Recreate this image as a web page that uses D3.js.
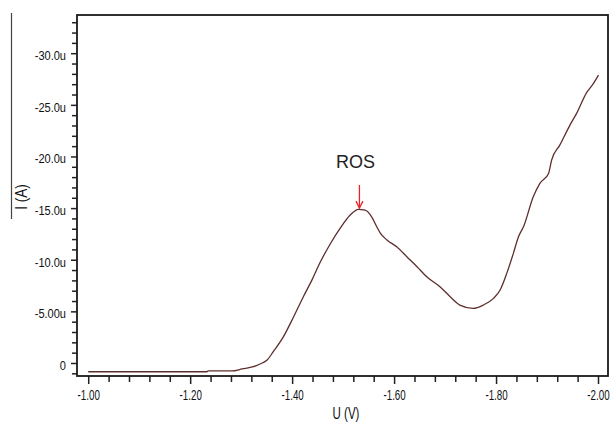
<!DOCTYPE html>
<html>
<head>
<meta charset="utf-8">
<script src="https://cdn.jsdelivr.net/npm/d3@7/dist/d3.min.js"></script>
<style>
  html, body { margin: 0; padding: 0; background: #fff; }
  svg { display: block; }
</style>
</head>
<body>
<svg id="chart" width="613" height="427"></svg>
<script>
// Potential U (V)
const potential = [-1.000, -1.233, -1.235, -1.282, -1.302, -1.324, -1.337, -1.351, -1.363, -1.383,
  -1.403, -1.422, -1.439, -1.455, -1.475, -1.494, -1.514, -1.530, -1.543, -1.556,
  -1.566, -1.573, -1.586, -1.605, -1.625, -1.645, -1.664, -1.690, -1.710, -1.729,
  -1.755, -1.775, -1.795, -1.808, -1.821, -1.834, -1.844, -1.854, -1.873, -1.886,
  -1.903, -1.909, -1.925, -1.945, -1.958, -1.978, -1.988, -2.001];
// Current I (µA)
const current = [0.85, 0.85, 0.77, 0.77, 0.58, 0.36, 0.10, -0.29, -1.09, -2.55,
  -4.48, -6.42, -8.05, -9.75, -11.55, -13.04, -14.33, -14.88, -14.81, -14.16,
  -13.20, -12.58, -11.91, -11.26, -10.29, -9.32, -8.35, -7.39, -6.42, -5.61,
  -5.29, -5.61, -6.26, -7.07, -8.68, -10.62, -12.23, -13.21, -16.10, -17.40,
  -18.36, -19.65, -21.10, -23.04, -24.17, -26.21, -26.85, -27.88];
const xTicks = [-1.0, -1.2, -1.4, -1.6, -1.8, -2.0];
const xTickLabels = ["-1.00", "-1.20", "-1.40", "-1.60", "-1.80", "-2.00"];
const yTicks = [0, -5, -10, -15, -20, -25, -30];
const yTickLabels = ["0", "-5.00u", "-10.0u", "-15.0u", "-20.0u", "-25.0u", "-30.0u"];
const peakLabel = "ROS";
const peakPoint = [-1.532, -14.9];

const svg = d3.select("#chart");
const L = 77, R = 608, T = 15, B = 376;
const FONT = '"Liberation Sans", Arial, sans-serif';

const x = d3.scaleLinear().domain([-0.978, -2.0196]).range([L, R]);
const y = d3.scaleLinear().domain([-33.7, 1.26]).range([T, B]);

// squeeze text horizontally (narrow-font look) with a transform
function squeeze(sel, k) {
  sel.each(function () {
    const t = d3.select(this);
    const x0 = +(t.attr("x") || 0);
    const tr = t.attr("transform") || "";
    t.attr("x", x0 / k).attr("transform", (tr + ` scale(${k},1)`).trim());
  });
}

// minor tick values
const xMinor = d3.range(0, 26).map(i => -1.0 - i * 0.04).filter(v => !xTicks.some(t => Math.abs(t - v) < 1e-6));
const yMinor = d3.range(-33, 2).filter(v => v % 5 !== 0);

// x axis
svg.append("g").attr("transform", `translate(0,${B})`)
  .call(d3.axisBottom(x).tickValues(xMinor).tickSize(6).tickFormat(""))
  .call(g => g.select(".domain").remove());
svg.append("g").attr("transform", `translate(0,${B})`)
  .call(d3.axisBottom(x).tickValues(xTicks).tickSize(8).tickPadding(6)
    .tickFormat((d, i) => xTickLabels[i]))
  .call(g => g.select(".domain").remove())
  .call(g => g.selectAll("text").attr("font-size", 14).attr("fill", "#111").attr("font-family", FONT)
      .call(squeeze, 0.7));

// y axis
svg.append("g").attr("transform", `translate(${L},0)`)
  .call(d3.axisLeft(y).tickValues(yMinor).tickSize(5).tickFormat(""))
  .call(g => g.select(".domain").remove());
svg.append("g").attr("transform", `translate(${L},0)`)
  .call(d3.axisLeft(y).tickValues(yTicks).tickSize(6).tickPadding(5)
    .tickFormat((d, i) => yTickLabels[i]))
  .call(g => g.select(".domain").remove())
  .call(g => g.selectAll("text").attr("font-size", 13).attr("fill", "#111").attr("dy", "0.5em")
      .attr("font-family", FONT).call(squeeze, 0.85));
svg.selectAll(".tick line").attr("stroke", "#222").attr("stroke-width", 1.5);

// frame
svg.append("rect").attr("x", L).attr("y", T).attr("width", R - L).attr("height", B - T)
  .attr("fill", "none").attr("stroke", "#1a1a1a").attr("stroke-width", 1.8);

// curve
const data = potential.map((u, i) => [u, current[i]]);
svg.append("path").datum(data)
  .attr("fill", "none").attr("stroke", "#5e2e2e").attr("stroke-width", 1.3)
  .attr("d", d3.line().x(d => x(d[0])).y(d => y(d[1])).curve(d3.curveMonotoneX));

// axis titles
svg.append("text").attr("x", 346).attr("y", 419).attr("text-anchor", "middle")
  .attr("font-size", 16).attr("fill", "#111").attr("font-family", FONT)
  .text("U (V)").call(squeeze, 0.72);
svg.append("text").attr("transform", "translate(27,197) rotate(-90)").attr("text-anchor", "middle")
  .attr("font-size", 16).attr("fill", "#111").attr("font-family", FONT)
  .text("I (A)").call(squeeze, 0.85);
svg.append("line").attr("x1", 11.5).attr("x2", 11.5).attr("y1", 13).attr("y2", 219)
  .attr("stroke", "#444").attr("stroke-width", 1.2);

// annotation
const px = x(peakPoint[0]), py = y(peakPoint[1]);
svg.append("text").attr("x", px - 4).attr("y", 168).attr("text-anchor", "middle")
  .attr("font-size", 18).attr("fill", "#222").attr("font-family", FONT).text(peakLabel);
svg.append("line").attr("x1", px).attr("x2", px).attr("y1", 185).attr("y2", py - 1)
  .attr("stroke", "#e8262a").attr("stroke-width", 1.3);
svg.append("path").attr("d", `M${px - 3.5},${py - 8} L${px},${py - 1} L${px + 3.5},${py - 8}`)
  .attr("fill", "none").attr("stroke", "#e8262a").attr("stroke-width", 1.3);
</script>
</body>
</html>
